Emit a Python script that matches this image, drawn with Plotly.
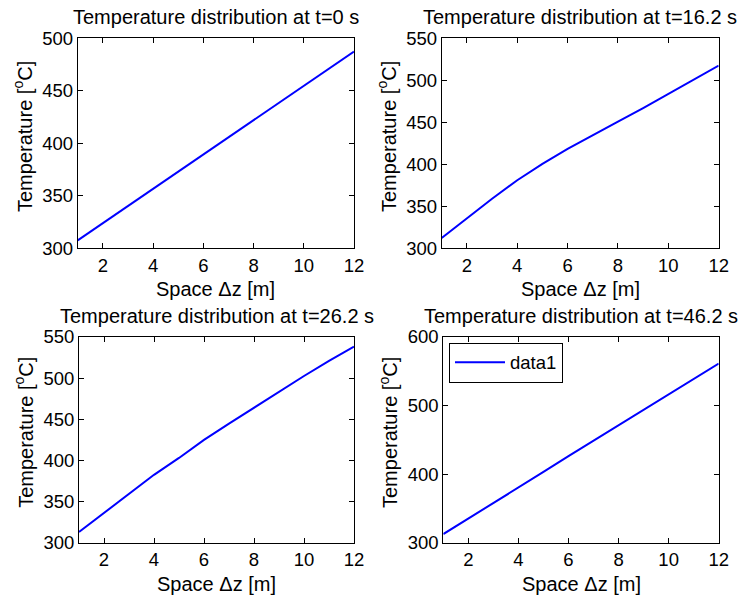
import plotly.graph_objects as go

W, H = 745, 596

z = [1, 2, 3, 4, 5, 6, 7, 8, 9, 10, 11, 12]
T_0 = [307.5, 323.8, 340.2, 356.5, 372.9, 389.3, 405.6, 422.0, 438.3, 454.7, 471.0, 487.4]
T_16 = [312.3, 336.0, 359.0, 381.0, 400.5, 418.3, 435.0, 450.8, 467.0, 483.7, 501.0, 517.5]
T_26 = [313.0, 336.5, 359.5, 382.5, 403.0, 425.0, 444.7, 464.0, 484.0, 502.6, 521.0, 538.3]
T_46 = [312.6, 335.0, 357.5, 380.0, 403.0, 426.0, 448.5, 471.5, 494.0, 516.5, 538.8, 561.0]

titles = ["Temperature distribution at t=0 s", "Temperature distribution at t=16.2 s",
          "Temperature distribution at t=26.2 s", "Temperature distribution at t=46.2 s"]
series = [T_0, T_16, T_26, T_46]
yranges = [[300, 500], [300, 550], [300, 550], [300, 600]]
ydticks = [50, 50, 50, 100]
xticks = [2, 4, 6, 8, 10, 12]

# axes boxes in pixels: left, right, top, bottom
boxes = [(77.7, 354.0, 38.3, 248.3), (441.7, 718.7, 38.3, 248.3),
         (79.0, 354.0, 337.0, 542.7), (443.3, 718.7, 336.7, 542.7)]

FONT = "Liberation Sans, Arial, Helvetica, sans-serif"
fig = go.Figure()
annotations = []
layout = {}
for i in range(4):
    L, R, Tp, B = boxes[i]
    xa = "xaxis" if i == 0 else f"xaxis{i+1}"
    ya = "yaxis" if i == 0 else f"yaxis{i+1}"
    xr = "x" if i == 0 else f"x{i+1}"
    yr = "y" if i == 0 else f"y{i+1}"
    fig.add_trace(go.Scatter(x=z, y=series[i], mode="lines", name="data1",
                             line=dict(color="#0000ff", width=2),
                             showlegend=(i == 3), xaxis=xr, yaxis=yr))
    common = dict(showline=True, linecolor="black", linewidth=1, mirror="ticks",
                  ticks="inside", ticklen=5, tickcolor="black", showgrid=False,
                  zeroline=False, automargin=False,
                  tickfont=dict(family=FONT, size=18.5, color="black"))
    layout[xa] = dict(domain=[L / W, R / W], anchor=yr, range=[1, 12],
                      tickvals=xticks, **common)
    y0, y1 = yranges[i]
    layout[ya] = dict(domain=[1 - B / H, 1 - Tp / H], anchor=xr, range=[y0, y1],
                      tickvals=list(range(y0, y1 + 1, ydticks[i])), **common)
    cx = (L + R) / 2
    annotations.append(dict(text=titles[i], x=cx / W, y=1 - (Tp - 21) / H,
                            xref="paper", yref="paper", showarrow=False,
                            xanchor="center", yanchor="middle",
                            font=dict(family=FONT, size=20, color="black")))
    annotations.append(dict(text="Space \u0394z [m]", x=cx / W, y=1 - (B + 41) / H,
                            xref="paper", yref="paper", showarrow=False,
                            xanchor="center", yanchor="middle",
                            font=dict(family=FONT, size=20, color="black")))
    annotations.append(dict(text="Temperature [<sup>o</sup>C]", x=(L - 55) / W,
                            y=1 - ((Tp + B) / 2 - 7) / H, textangle=-90,
                            xref="paper", yref="paper", showarrow=False,
                            xanchor="center", yanchor="middle",
                            font=dict(family=FONT, size=20, color="black")))

fig.update_layout(width=W, height=H, margin=dict(l=0, r=0, t=0, b=0, pad=0),
                  autosize=False,
                  paper_bgcolor="white", plot_bgcolor="white",
                  annotations=annotations,
                  legend=dict(x=449 / W, y=1 - 342.7 / H, xanchor="left", yanchor="top",
                              bordercolor="black", borderwidth=1, bgcolor="white",
                              itemwidth=50,
                              font=dict(family=FONT, size=18.5, color="black")),
                  **layout)
fig.write_html("out.html")
